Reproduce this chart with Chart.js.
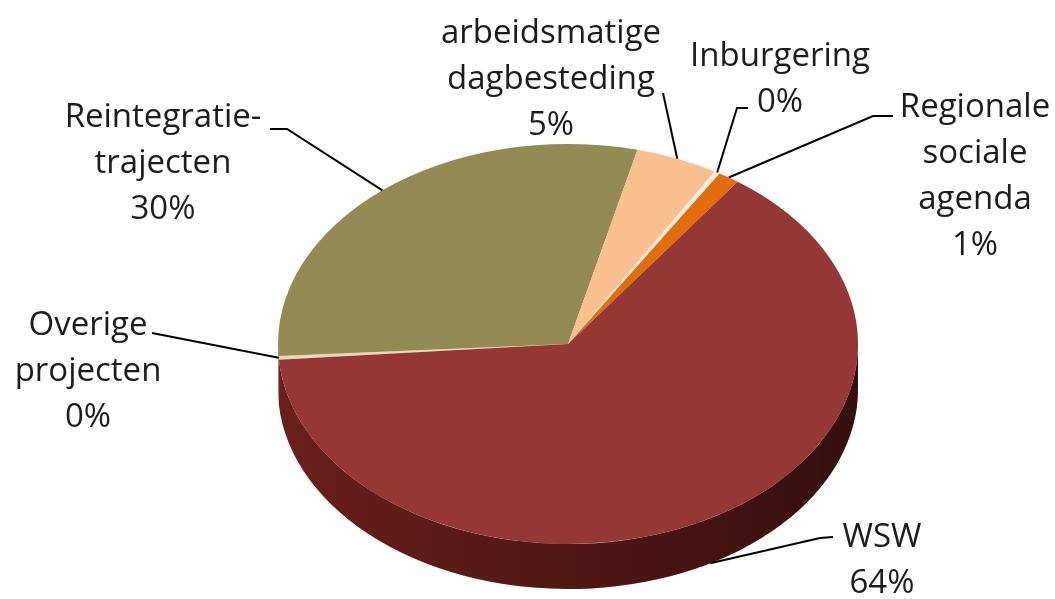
<!DOCTYPE html>
<html>
<head>
<meta charset="utf-8">
<script src="https://cdn.jsdelivr.net/npm/chart.js@4.4.1/dist/chart.umd.min.js"></script>
<style>
  html, body { margin: 0; padding: 0; background: #fff; }
  #wrap { width: 1055px; height: 599px; }
</style>
</head>
<body>
<div id="wrap"><canvas id="pieChart" width="1055" height="599"></canvas></div>
<script>
// data, clockwise from the left edge
const categories = [
  ['Overige', 'projecten'],
  ['Reintegratie-', 'trajecten'],
  ['arbeidsmatige', 'dagbesteding'],
  ['Inburgering'],
  ['Regionale', 'sociale', 'agenda'],
  ['WSW']
];
const shares = [0.3, 29.8, 4.6, 0.3, 1.2, 63.8];
const topColors = ['#e8d9bd', '#948a54', '#fac090', '#fdeee2', '#e46c0a', '#953735'];
const sideColors = ['#a89a80', '#5e5834', '#b88860', '#c0b0a0', '#9a4a08', '#6a1f1c'];

// look of the fake 3d
const SQUASH = 200 / 290;
const DEPTH = 45;
const TOP_Y = 344;
const LINE_H = 46;

// where Excel put each label (first line centre) and the elbow of its leader
const labelLayout = [
  { x: 88, y: 326, lead: [[152, 333]] },
  { x: 163, y: 118, lead: [[270, 129], [287, 129]] },
  { x: 551, y: 34, lead: [[663, 93]] },
  { x: 780, y: 57, lead: [[748, 108], [737, 108]] },
  { x: 975, y: 108, lead: [[893, 116], [873, 116]] },
  { x: 882, y: 538, lead: [[833, 537], [820, 538]], side: true }
];

function lowerParts(s, e) {
  const parts = [];
  for (let k = -1; k <= 2; k++) {
    const lo = Math.max(s, 2 * Math.PI * k);
    const hi = Math.min(e, 2 * Math.PI * k + Math.PI);
    if (hi > lo) parts.push([lo, hi]);
  }
  return parts;
}

const pie3d = {
  id: 'pie3d',
  beforeDatasetsDraw(chart) {
    const ctx = chart.ctx;
    const arcs = chart.getDatasetMeta(0).data;
    const cy = arcs[0].y;
    ctx.save();
    ctx.translate(0, TOP_Y);
    ctx.scale(1, SQUASH);
    ctx.translate(0, -cy);
    const d = DEPTH / SQUASH;
    arcs.forEach((arc, i) => {
      const r = arc.outerRadius;
      lowerParts(arc.startAngle, arc.endAngle).forEach(([lo, hi]) => {
        ctx.beginPath();
        ctx.arc(arc.x, arc.y, r, lo, hi);
        ctx.arc(arc.x, arc.y + d, r, hi, lo, true);
        ctx.closePath();
        ctx.fillStyle = sideColors[i];
        ctx.fill();
        const g = ctx.createLinearGradient(arc.x - r, 0, arc.x + r, 0);
        g.addColorStop(0, 'rgba(0,0,0,0)');
        g.addColorStop(1, 'rgba(0,0,0,0.5)');
        ctx.fillStyle = g;
        ctx.fill();
      });
    });
  },
  afterDatasetsDraw(chart) {
    chart.ctx.restore();
  }
};

const pieLabels = {
  id: 'pieLabels',
  afterDraw(chart) {
    const ctx = chart.ctx;
    const arcs = chart.getDatasetMeta(0).data;
    ctx.save();
    ctx.font = '33px "Open Sans"';
    ctx.fillStyle = '#1c1c1c';
    ctx.strokeStyle = '#000';
    ctx.lineWidth = 2;
    ctx.textAlign = 'center';
    ctx.textBaseline = 'middle';
    arcs.forEach((arc, i) => {
      const p = labelLayout[i];
      const lines = categories[i].concat([Math.round(shares[i]) + '%']);
      lines.forEach((t, k) => ctx.fillText(t, p.x, p.y + k * LINE_H));

      const mid = (arc.startAngle + arc.endAngle) / 2;
      const px = arc.x + arc.outerRadius * Math.cos(mid);
      const py = TOP_Y + SQUASH * arc.outerRadius * Math.sin(mid) + (p.side ? DEPTH : 0);
      ctx.beginPath();
      ctx.moveTo(p.lead[0][0], p.lead[0][1]);
      p.lead.slice(1).forEach(pt => ctx.lineTo(pt[0], pt[1]));
      ctx.lineTo(px, py);
      ctx.stroke();
    });
    ctx.restore();
  }
};

new Chart(document.getElementById('pieChart'), {
  type: 'pie',
  data: {
    labels: categories.map(c => c.join(' ')),
    datasets: [{
      data: shares,
      backgroundColor: topColors,
      borderWidth: 0,
      hoverOffset: 0
    }]
  },
  options: {
    responsive: false,
    animation: false,
    rotation: 265.5,
    layout: { padding: { left: 278, right: 197, top: 9.5, bottom: 9.5 } },
    plugins: {
      legend: { display: false },
      tooltip: { enabled: false }
    }
  },
  plugins: [pie3d, pieLabels]
});
</script>
</body>
</html>
